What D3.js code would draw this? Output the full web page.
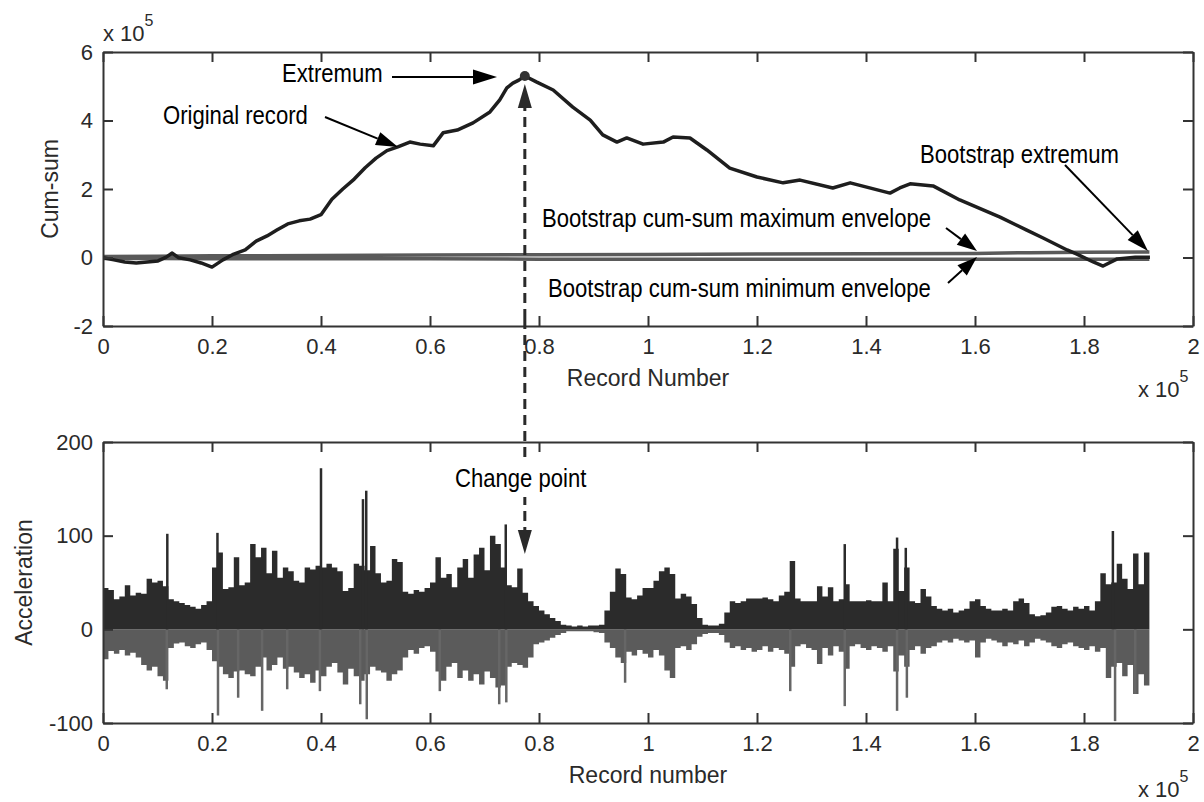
<!DOCTYPE html>
<html>
<head>
<meta charset="utf-8">
<script src="https://cdn.jsdelivr.net/npm/d3@7"></script>
<style>
html, body { margin: 0; padding: 0; background: #fff; }
svg { display: block; }
text { font-family: "Liberation Sans", Arial, Helvetica, sans-serif; }
</style>
</head>
<body>
<svg id="chart" width="1204" height="802"></svg>
<script>
// ---------------- data (record number in units of 1e5) ----------------
// Cumulative sum of the original record (values in units of 1e5)
const cumX = [0, 0.020, 0.040, 0.061, 0.081, 0.101, 0.116, 0.127, 0.139, 0.160, 0.180, 0.200, 0.220, 0.240, 0.261, 0.281, 0.301, 0.319, 0.339, 0.360, 0.380, 0.400, 0.420, 0.440, 0.461, 0.481, 0.501, 0.521, 0.541, 0.563, 0.582, 0.606, 0.624, 0.650, 0.679, 0.710, 0.728, 0.741, 0.752, 0.763, 0.774, 0.796, 0.826, 0.862, 0.894, 0.917, 0.943, 0.961, 0.991, 1.028, 1.046, 1.077, 1.108, 1.150, 1.200, 1.248, 1.279, 1.339, 1.371, 1.444, 1.462, 1.481, 1.523, 1.572, 1.646, 1.695, 1.725, 1.769, 1.787, 1.817, 1.835, 1.861, 1.894, 1.921];
const cumY = [-0.01, -0.07, -0.13, -0.16, -0.13, -0.10, 0.01, 0.13, -0.01, -0.07, -0.16, -0.28, -0.07, 0.10, 0.22, 0.48, 0.63, 0.80, 0.98, 1.07, 1.12, 1.25, 1.70, 2.00, 2.29, 2.62, 2.90, 3.12, 3.23, 3.37, 3.31, 3.26, 3.64, 3.72, 3.93, 4.25, 4.60, 4.95, 5.09, 5.18, 5.30, 5.12, 4.89, 4.39, 4.01, 3.58, 3.37, 3.49, 3.31, 3.37, 3.52, 3.49, 3.14, 2.61, 2.35, 2.18, 2.26, 2.03, 2.18, 1.88, 2.03, 2.15, 2.09, 1.68, 1.18, 0.80, 0.57, 0.22, 0.10, -0.13, -0.25, -0.04, 0.01, 0.01];

// Bootstrap cum-sum envelopes
const envX   = [0, 0.1, 0.2, 0.3, 0.4, 0.6, 0.8, 1.0, 1.2, 1.4, 1.6, 1.7, 1.8, 1.92];
const envMax = [0.03, 0.04, 0.05, 0.05, 0.06, 0.07, 0.08, 0.09, 0.10, 0.11, 0.12, 0.14, 0.15, 0.16];
const envMin = [-0.03, -0.03, -0.04, -0.04, -0.04, -0.04, -0.05, -0.05, -0.05, -0.05, -0.05, -0.05, -0.05, -0.05];

// Extremum of the cum-sum (change point)
const extremum = { x: 0.774, y: 5.30 };

// Acceleration record: per-bin maximum / minimum, bin width 0.01e5 records
const accBin = 0.01;
const accPos = [
  44, 42, 32, 35, 47, 36, 39, 38, 54, 50,
  52, 46, 32, 30, 28, 26, 24, 22, 26, 30,
  66, 82, 43, 45, 77, 47, 50, 91, 77, 87,
  60, 84, 55, 66, 62, 52, 50, 66, 64, 68,
  66, 70, 66, 62, 41, 44, 70, 68, 63, 89,
  60, 50, 52, 75, 72, 40, 38, 42, 40, 44,
  50, 77, 55, 59, 45, 66, 75, 55, 80, 87,
  63, 100, 91, 66, 47, 45, 65, 39, 30, 25,
  20, 16, 12, 9, 5, 4, 3, 4, 3, 4,
  4, 5, 20, 40, 65, 59, 34, 32, 36, 44,
  44, 52, 62, 66, 59, 33, 38, 35, 27, 12,
  5, 4, 4, 6, 18, 30, 28, 30, 33, 33,
  33, 34, 32, 30, 36, 40, 73, 33, 30, 30,
  30, 46, 35, 45, 30, 32, 48, 30, 30, 30,
  31, 30, 30, 50, 30, 86, 41, 66, 30, 28,
  43, 35, 25, 22, 20, 22, 18, 20, 22, 30,
  32, 25, 22, 20, 20, 22, 20, 30, 33, 28,
  16, 14, 15, 18, 24, 25, 22, 20, 24, 22,
  25, 20, 30, 60, 48, 50, 70, 54, 43, 81,
  48, 82
];
const accNeg = [
  -32, -23, -26, -22, -28, -25, -30, -38, -44, -40,
  -50, -55, -20, -15, -14, -18, -20, -16, -14, -22,
  -34, -40, -48, -52, -45, -44, -48, -50, -40, -30,
  -44, -38, -30, -42, -40, -46, -52, -48, -57, -44,
  -50, -40, -36, -46, -59, -42, -50, -55, -48, -40,
  -44, -46, -55, -48, -44, -30, -22, -26, -20, -18,
  -24, -45, -55, -40, -36, -52, -44, -55, -48, -59,
  -45, -52, -62, -60, -40, -36, -38, -41, -30, -16,
  -14, -12, -9, -6, -4, -2, -2, -2, -2, -2,
  -3, -4, -14, -20, -30, -36, -24, -28, -22, -26,
  -30, -22, -28, -44, -52, -20, -18, -22, -16, -8,
  -5, -4, -4, -6, -14, -20, -18, -22, -20, -24,
  -22, -18, -24, -20, -22, -26, -40, -18, -16, -20,
  -22, -37, -20, -28, -18, -24, -42, -18, -16, -20,
  -22, -18, -20, -24, -18, -45, -28, -40, -22, -18,
  -26, -20, -18, -14, -12, -14, -10, -12, -14, -12,
  -30, -14, -10, -12, -14, -18, -14, -16, -12, -18,
  -14, -10, -12, -14, -18, -20, -16, -14, -18, -20,
  -22, -18, -24, -20, -52, -40, -36, -50, -38, -69,
  -48, -60
];
// Isolated peaks [record (1e5), acceleration]
const spikePos = [[0.118, 102], [0.210, 103], [0.400, 172], [0.477, 139], [0.483, 148], [0.739, 112], [1.361, 91], [1.457, 98], [1.473, 87], [1.853, 105]];
const spikeNeg = [[0.117, -64], [0.211, -92], [0.248, -73], [0.292, -87], [0.338, -64], [0.398, -66], [0.472, -80], [0.484, -96], [0.618, -66], [0.727, -80], [0.740, -78], [0.958, -57], [1.261, -66], [1.361, -82], [1.457, -87], [1.475, -73], [1.857, -98], [1.894, -69]];

// Axis ticks
const xTicks = [0, 0.2, 0.4, 0.6, 0.8, 1, 1.2, 1.4, 1.6, 1.8, 2];
const yTicksTop = [-2, 0, 2, 4, 6];
const yTicksBottom = [-100, 0, 100, 200];

// ---------------- layout ----------------
const svg = d3.select("#chart");
const left = 103, right = 1193;
const topPanel = { top: 52, bottom: 326 };
const botPanel = { top: 442, bottom: 723 };

const x = d3.scaleLinear().domain([0, 2]).range([left, right]);
const yT = d3.scaleLinear().domain([-2, 6]).range([topPanel.bottom, topPanel.top]);
const yB = d3.scaleLinear().domain([-100, 200]).range([botPanel.bottom, botPanel.top]);

const axisColor = "#333";
const fmtX = d => String(+d.toFixed(1));
const fmtY = d => String(d);   // plain hyphen-minus, as MATLAB prints it

function drawFrame(y, panel, yTicks, xTitle, yTitle, yTitleX) {
  const g = svg.append("g");
  const style = sel => {
    sel.select(".domain").attr("stroke", axisColor).attr("stroke-width", 2);
    sel.selectAll(".tick line").attr("stroke", axisColor).attr("stroke-width", 2);
    sel.selectAll(".tick text").attr("fill", "#2a2a2a").style("font-size", "22px")
      .style("font-family", "'Liberation Sans', Arial, sans-serif");
  };
  g.append("g").attr("transform", `translate(0,${panel.bottom})`)
    .call(d3.axisBottom(x).tickValues(xTicks).tickFormat(fmtX).tickSize(-10).tickSizeOuter(0).tickPadding(12)).call(style);
  g.append("g").attr("transform", `translate(0,${panel.top})`)
    .call(d3.axisTop(x).tickValues(xTicks).tickFormat("").tickSize(-10).tickSizeOuter(0)).call(style);
  g.append("g").attr("transform", `translate(${left},0)`)
    .call(d3.axisLeft(y).tickValues(yTicks).tickFormat(fmtY).tickSize(-10).tickSizeOuter(0).tickPadding(10)).call(style);
  g.append("g").attr("transform", `translate(${right},0)`)
    .call(d3.axisRight(y).tickValues(yTicks).tickFormat("").tickSize(-10).tickSizeOuter(0)).call(style);
  g.append("text").attr("x", (left + right) / 2).attr("y", panel.bottom + 60)
    .attr("text-anchor", "middle").attr("fill", "#2a2a2a").style("font-size", "23px").text(xTitle);
  g.append("text").attr("transform", `translate(${yTitleX},${(panel.top + panel.bottom) / 2}) rotate(-90)`)
    .attr("text-anchor", "middle").attr("fill", "#2a2a2a").style("font-size", "23px").text(yTitle);
  return g;
}

function exponent(xPos, yBase) {
  const t = svg.append("text").attr("x", xPos).attr("y", yBase).attr("fill", "#2a2a2a").style("font-size", "22px");
  t.append("tspan").text("x 10");
  t.append("tspan").attr("dy", -15).style("font-size", "16px").text("5");
}

// ---------------- bottom panel: acceleration ----------------
svg.append("clipPath").attr("id", "clipB").append("rect")
  .attr("x", left).attr("y", botPanel.top).attr("width", right - left).attr("height", botPanel.bottom - botPanel.top);
const gB = svg.append("g").attr("clip-path", "url(#clipB)");

const binPoints = arr => arr.map((v, i) => ({ x: i * accBin, v })).concat([{ x: arr.length * accBin, v: arr[arr.length - 1] }]);
const areaB = d3.area().x(d => x(d.x)).y0(yB(0)).y1(d => yB(d.v)).curve(d3.curveStepAfter);

gB.append("path").datum(binPoints(accNeg)).attr("d", areaB).attr("fill", "#5b5b5b");
gB.selectAll("line.sneg").data(spikeNeg).join("line").attr("class", "sneg")
  .attr("x1", d => x(d[0])).attr("x2", d => x(d[0])).attr("y1", yB(0)).attr("y2", d => yB(d[1]))
  .attr("stroke", "#666").attr("stroke-width", 2.5);
gB.append("path").datum(binPoints(accPos)).attr("d", areaB).attr("fill", "#2b2b2b");
gB.selectAll("line.spos").data(spikePos).join("line").attr("class", "spos")
  .attr("x1", d => x(d[0])).attr("x2", d => x(d[0])).attr("y1", yB(0)).attr("y2", d => yB(d[1]))
  .attr("stroke", "#2b2b2b").attr("stroke-width", 2.5);

drawFrame(yB, botPanel, yTicksBottom, "Record number", "Acceleration", 32);
exponent(1138, 797);

// ---------------- top panel: cumulative sums ----------------
svg.append("clipPath").attr("id", "clipT").append("rect")
  .attr("x", left).attr("y", topPanel.top).attr("width", right - left).attr("height", topPanel.bottom - topPanel.top);
const gT = svg.append("g").attr("clip-path", "url(#clipT)");

const envLine = d3.line().x(d => x(d[0])).y(d => yT(d[1]));
gT.append("path").datum(envX.map((v, i) => [v, envMax[i]])).attr("d", envLine)
  .attr("fill", "none").attr("stroke", "#5a5a5a").attr("stroke-width", 3.5);
gT.append("path").datum(envX.map((v, i) => [v, envMin[i]])).attr("d", envLine)
  .attr("fill", "none").attr("stroke", "#5a5a5a").attr("stroke-width", 3.5);

gT.append("path").datum(cumX.map((v, i) => [v, cumY[i]]))
  .attr("d", d3.line().x(d => x(d[0])).y(d => yT(d[1])))
  .attr("fill", "none").attr("stroke", "#1e1e1e").attr("stroke-width", 3.5).attr("stroke-linejoin", "round");
gT.append("circle").attr("cx", x(extremum.x)).attr("cy", yT(extremum.y)).attr("r", 5).attr("fill", "#333");

drawFrame(yT, topPanel, yTicksTop, "Record Number", "Cum-sum", 58);
exponent(103, 41);
exponent(1138, 397);

// ---------------- annotations ----------------
const ann = svg.append("g");

function arrow(x1, y1, x2, y2, opts = {}) {
  const head = opts.head || 20, half = (opts.width || 13) / 2;
  const dx = x2 - x1, dy = y2 - y1, len = Math.hypot(dx, dy);
  const ux = dx / len, uy = dy / len;
  const bx = x2 - ux * head, by = y2 - uy * head;
  ann.append("line").attr("x1", x1).attr("y1", y1).attr("x2", bx).attr("y2", by)
    .attr("stroke", opts.color || "#000").attr("stroke-width", opts.sw || 2)
    .attr("stroke-dasharray", opts.dash || null);
  ann.append("path")
    .attr("d", `M${x2},${y2}L${bx - uy * half},${by + ux * half}L${bx + uy * half},${by - ux * half}Z`)
    .attr("fill", opts.color || "#000");
}

function label(txt, xPos, yBase) {
  ann.append("text").attr("transform", `translate(${xPos},${yBase}) scale(0.85,1)`)
    .attr("fill", "#000").style("font-size", "26px").text(txt);
}

// change-point link between the two panels
const cpx = x(extremum.x);
const dashTop = 84, dashBottom = 554;
arrow(cpx, (dashTop + dashBottom) / 2, cpx, dashTop, { head: 24, width: 14, color: "#2a2a2a", sw: 3, dash: "10,6" });
arrow(cpx, (dashTop + dashBottom) / 2, cpx, dashBottom, { head: 24, width: 14, color: "#2a2a2a", sw: 3, dash: "10,6" });
ann.append("rect").attr("x", 432).attr("y", 458).attr("width", 178).attr("height", 39).attr("fill", "#fff");
label("Change point", 455, 487);

label("Extremum", 282, 82);
arrow(392, 77, 497, 77, { head: 24, width: 15 });

label("Original record", 163, 124);
arrow(325, 117, 398, 147, { head: 22, width: 14 });

label("Bootstrap extremum", 920, 163);
arrow(1065, 165, 1148, 251, { head: 22, width: 14 });

label("Bootstrap cum-sum maximum envelope", 542, 227);
arrow(946, 228, 977, 251, { head: 20, width: 14 });

label("Bootstrap cum-sum minimum envelope", 548, 297);
arrow(948, 283, 977, 257, { head: 20, width: 14 });
</script>
</body>
</html>
